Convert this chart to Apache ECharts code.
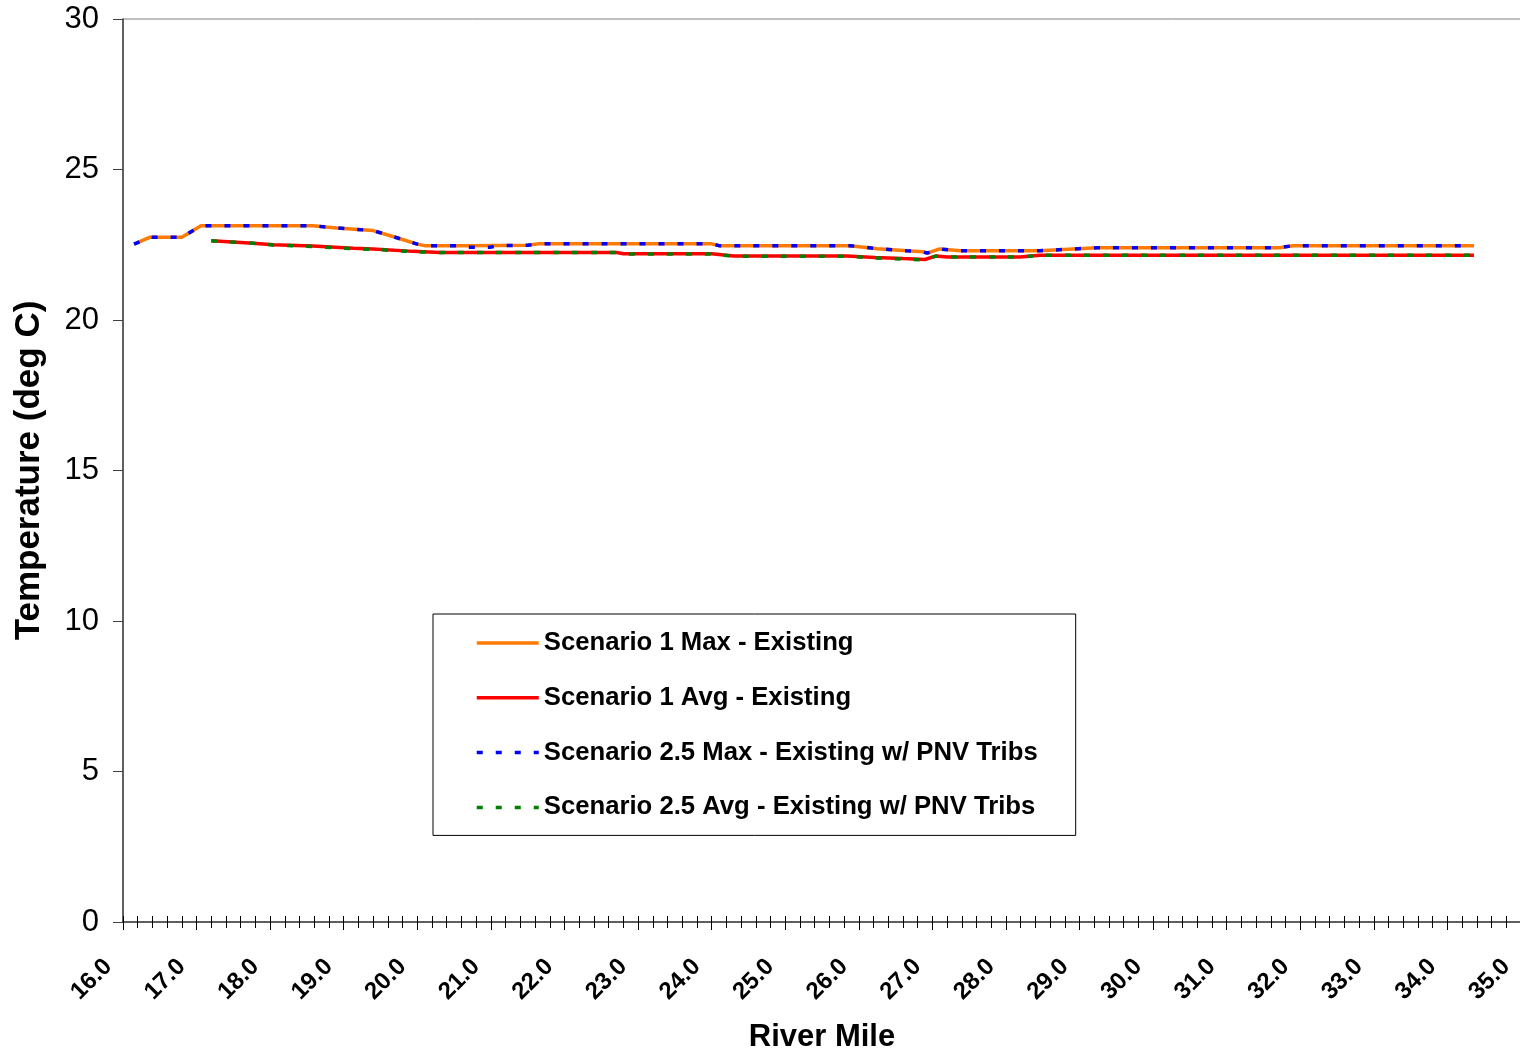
<!DOCTYPE html>
<html><head><meta charset="utf-8">
<script src="https://cdn.jsdelivr.net/npm/echarts@6/dist/echarts.min.js"></script>
<style>html,body{margin:0;padding:0;background:#fff}#c{width:1520px;height:1052px}</style>
</head><body><div id="c"></div>
<script>
// ---- data ----
const seriesNames = [
  'Scenario 1 Max - Existing',
  'Scenario 1 Avg - Existing',
  'Scenario 2.5 Max - Existing w/ PNV Tribs',
  'Scenario 2.5 Avg - Existing w/ PNV Tribs'
];
const maxMiles = [16.15, 16.37, 16.80, 17.06, 18.58, 18.90, 19.40, 19.70, 20.00, 20.10, 20.70, 21.50, 21.65, 24.00, 24.10, 25.88, 26.25, 26.65, 26.87, 26.93, 27.10, 27.38, 28.46, 29.24, 31.72, 31.90, 34.36];
const s1Max    = [22.52, 22.75, 22.75, 23.13, 23.13, 23.06, 22.97, 22.75, 22.52, 22.47, 22.47, 22.48, 22.53, 22.53, 22.47, 22.47, 22.37, 22.30, 22.27, 22.22, 22.36, 22.30, 22.30, 22.40, 22.40, 22.47, 22.47];
const maxMiles25 = [16.15, 16.37, 16.80, 17.06, 18.58, 18.90, 19.40, 19.70, 20.00, 20.10, 20.60, 20.66, 21.00, 21.08, 21.50, 21.65, 24.00, 24.10, 25.88, 26.25, 26.65, 26.87, 26.93, 27.10, 27.38, 28.46, 29.24, 31.72, 31.90, 34.36];
const s25Max     = [22.52, 22.75, 22.75, 23.13, 23.13, 23.06, 22.97, 22.75, 22.52, 22.47, 22.47, 22.42, 22.42, 22.47, 22.48, 22.53, 22.53, 22.47, 22.47, 22.37, 22.30, 22.27, 22.22, 22.36, 22.30, 22.30, 22.40, 22.40, 22.47, 22.47];
const avgMiles = [17.20, 17.77, 18.04, 18.58, 19.13, 19.40, 19.94, 20.31, 22.71, 22.80, 24.00, 24.30, 25.84, 26.22, 26.60, 26.90, 27.05, 27.20, 28.19, 28.46, 34.36];
const s1Avg    = [22.63, 22.55, 22.50, 22.46, 22.38, 22.36, 22.28, 22.24, 22.24, 22.20, 22.20, 22.13, 22.13, 22.08, 22.04, 22.01, 22.13, 22.09, 22.09, 22.15, 22.15];
const s25Avg   = [22.63, 22.55, 22.49, 22.44, 22.37, 22.35, 22.27, 22.24, 22.24, 22.19, 22.19, 22.12, 22.12, 22.06, 22.02, 22.00, 22.12, 22.09, 22.09, 22.15, 22.15];

const font = '"Liberation Sans", Arial, sans-serif';
const pairs = (xs, ys) => xs.map((x, i) => [x, ys[i]]);

const chart = echarts.init(document.getElementById('c'), null, {renderer: 'canvas'});
chart.setOption({
  animation: false,
  backgroundColor: '#fff',
  grid: {left: 123, top: 19, right: -1, bottom: 130, containLabel: false, outerBoundsMode: 'none',
         show: true, borderColor: '#808080', borderWidth: 1, backgroundColor: 'transparent'},
  legend: {
    orient: 'vertical', left: 433, top: 614,
    padding: [16, 38, 15, 42], itemGap: 28.8, itemWidth: 62, itemHeight: 16,
    borderColor: '#000', borderWidth: 1, backgroundColor: '#fff',
    itemStyle: {opacity: 0},
    lineStyle: {width: 3.5},
    textStyle: {fontFamily: font, fontSize: 25.7, fontWeight: 'bold', color: '#000'},
    data: seriesNames
  },
  xAxis: [
    {
      type: 'value', min: 16, max: 35, interval: 1,
      name: 'River Mile', nameLocation: 'middle', nameGap: 100,
      nameTextStyle: {fontFamily: font, fontSize: 31, fontWeight: 'bold', color: '#000'},
      axisLine: {show: true, lineStyle: {color: '#404040', width: 1.5}},
      axisTick: {show: true, length: 8, lineStyle: {color: '#000', width: 1}},
      minorTick: {show: true, splitNumber: 5, length: 6, lineStyle: {color: '#000', width: 1}},
      splitLine: {show: false}, minorSplitLine: {show: false},
      axisLabel: {rotate: 45, margin: 26, padding: [0, 21, 0, 0], formatter: v => v.toFixed(1),
                  fontFamily: font, fontSize: 24, fontWeight: 'bold', color: '#000', showMinLabel: true, showMaxLabel: true}
    },
    {
      type: 'value', min: 16, max: 35, interval: 1, position: 'bottom',
      axisLine: {show: false},
      axisTick: {show: true, inside: true, length: 6, lineStyle: {color: '#000', width: 1}},
      minorTick: {show: true, splitNumber: 5, length: 6, lineStyle: {color: '#000', width: 1}},
      axisLabel: {show: false}, splitLine: {show: false}
    }
  ],
  yAxis: {
    type: 'value', min: 0, max: 30, interval: 5,
    name: 'Temperature (deg C)', nameLocation: 'middle', nameGap: 76,
    nameTextStyle: {fontFamily: font, fontSize: 35, fontWeight: 'bold', color: '#000'},
    axisLine: {show: true, lineStyle: {color: '#404040', width: 1.5}},
    axisTick: {show: true, length: 10, lineStyle: {color: '#404040', width: 1}},
    axisLabel: {margin: 24, fontFamily: font, fontSize: 31, color: '#000'},
    splitLine: {show: false}
  },
  series: [
    {name: seriesNames[0], type: 'line', data: pairs(maxMiles, s1Max), symbol: 'none', z: 2,
     lineStyle: {color: '#FF7A00', width: 3.5}, itemStyle: {color: '#FF7A00', opacity: 0}},
    {name: seriesNames[1], type: 'line', data: pairs(avgMiles, s1Avg), symbol: 'none', z: 2,
     lineStyle: {color: '#FF0000', width: 3.5}, itemStyle: {color: '#FF0000', opacity: 0}},
    {name: seriesNames[2], type: 'line', data: pairs(maxMiles25, s25Max), symbol: 'none', z: 3,
     lineStyle: {color: '#0000FF', width: 3.5, type: [6, 13]}, itemStyle: {color: '#0000FF', opacity: 0}},
    {name: seriesNames[3], type: 'line', data: pairs(avgMiles, s25Avg), symbol: 'none', z: 3,
     lineStyle: {color: '#008000', width: 3.5, type: [6, 13]}, itemStyle: {color: '#008000', opacity: 0}}
  ]
});
</script></body></html>
